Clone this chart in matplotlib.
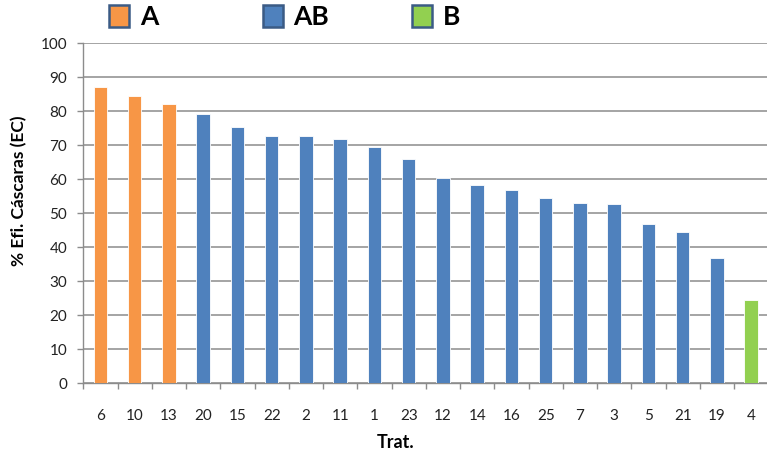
import matplotlib.pyplot as plt
from matplotlib.patches import Rectangle
import numpy as np

plt.rcParams['font.family'] = ['Lato', 'DejaVu Sans']

trat = ['6', '10', '13', '20', '15', '22', '2', '11', '1', '23',
        '12', '14', '16', '25', '7', '3', '5', '21', '19', '4']
eff = [87.1, 84.5, 82.2, 79.2, 75.4, 72.6, 72.6, 71.9, 69.5, 66.1,
       60.5, 58.2, 56.9, 54.4, 52.9, 52.6, 46.8, 44.5, 36.9, 24.5]
group = ['A', 'A', 'A'] + ['AB'] * 16 + ['B']

colors = {'A': '#F79646', 'AB': '#4F81BD', 'B': '#92D050'}
bar_cols = [colors[g] for g in group]

W, H = 767, 454
fig = plt.figure(figsize=(W / 100, H / 100), dpi=100)
ax = fig.add_axes([83.3 / W, 1 - 383.3 / H, (768.3 - 83.3) / W, 340 / H])

x = np.arange(len(trat))
ax.bar(x, eff, width=0.39, color=bar_cols, edgecolor='#ffffff', linewidth=0.6, zorder=3)

ax.set_xlim(-0.5, len(trat) - 0.5)
ax.set_ylim(0, 100)
ax.set_yticks(np.arange(0, 101, 10))
ax.yaxis.grid(True, color='#8c8c8c', linewidth=1.1, zorder=0)

# category labels centred, tick marks between categories
ax.set_xticks(x)
ax.set_xticklabels(trat)
ax.set_xticks(np.arange(-0.5, len(trat), 1), minor=True)
ax.tick_params(axis='x', which='major', length=0, pad=18.5, labelsize=11, colors='#222222')
ax.tick_params(axis='x', which='minor', length=4, width=1, color='#8c8c8c')
ax.tick_params(axis='y', length=4.5, width=1, color='#8c8c8c', pad=7, labelsize=11, labelcolor='#222222')

for s in ['top', 'right']:
    ax.spines[s].set_visible(False)
for s in ['left', 'bottom']:
    ax.spines[s].set_color('#8c8c8c')
    ax.spines[s].set_linewidth(1)

fig.text(19 / W, 1 - 191 / H, '% Efi. Cáscaras (EC)', rotation=90, ha='center', va='center',
         fontsize=12.5, fontweight='bold')
fig.text(396 / W, 1 - 443 / H, 'Trat.', ha='center', va='center', fontsize=13, fontweight='bold')

# group legend across the top
legend_items = [('A', 109, 140), ('AB', 263, 293), ('B', 412, 443)]
for name, sx, tx in legend_items:
    fig.patches.append(Rectangle((sx / W, 1 - 27 / H), 20 / W, 22 / H, transform=fig.transFigure,
                                 facecolor=colors[name], edgecolor='#3B5B85', linewidth=1.8))
    fig.text(tx / W, 1 - 17 / H, name, ha='left', va='center', fontsize=19, fontweight='bold')

fig.savefig('out.png', dpi=100)
